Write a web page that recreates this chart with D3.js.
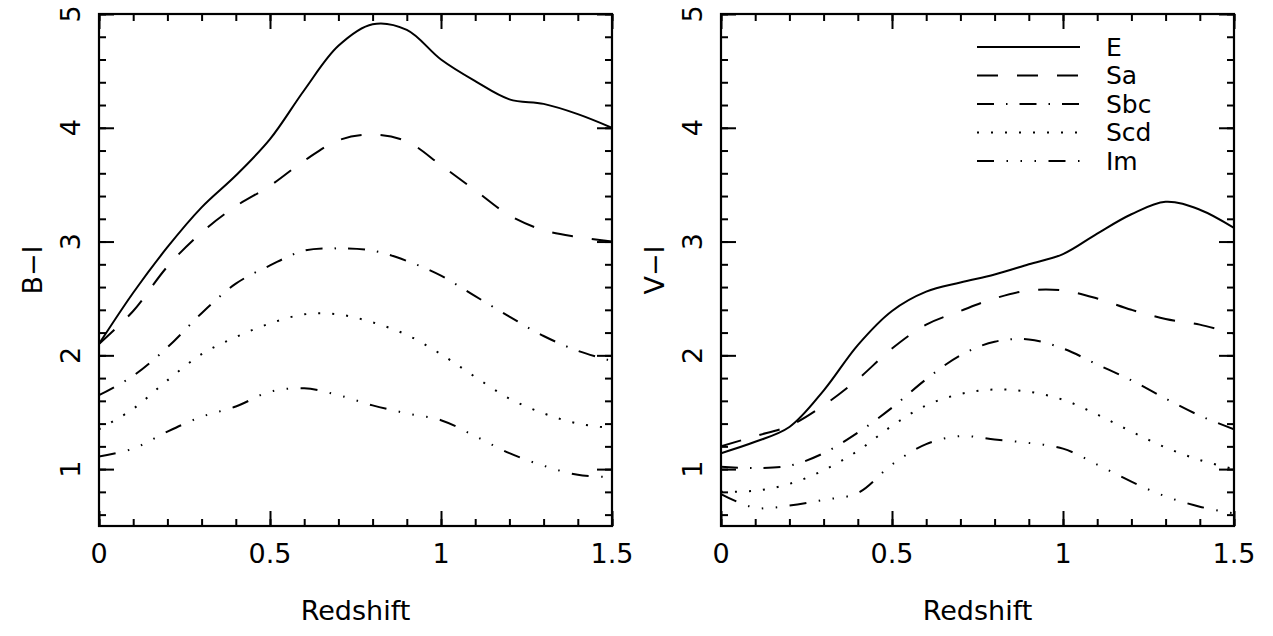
<!DOCTYPE html>
<html>
<head>
<meta charset="utf-8">
<script src="https://cdn.jsdelivr.net/npm/d3@7"></script>
<style>
  body { margin: 0; background: #fff; }
  svg { display: block; font-family: "DejaVu Sans", sans-serif; }
</style>
</head>
<body>
<div id="chart"></div>
<script>
// Redshift grid shared by every curve
const redshift = [0, 0.1, 0.2, 0.3, 0.4, 0.5, 0.6, 0.7, 0.8, 0.9, 1.0, 1.1, 1.2, 1.3, 1.4, 1.5];

const types = ["E", "Sa", "Sbc", "Scd", "Im"];

// B-I colours (left panel)
const biE   = [2.10, 2.55, 2.95, 3.30, 3.58, 3.90, 4.33, 4.72, 4.91, 4.86, 4.60, 4.41, 4.25, 4.21, 4.12, 4.00];
const biSa  = [2.10, 2.39, 2.78, 3.08, 3.31, 3.49, 3.71, 3.89, 3.94, 3.88, 3.67, 3.45, 3.23, 3.10, 3.04, 3.00];
const biSbc = [1.65, 1.82, 2.07, 2.37, 2.63, 2.79, 2.92, 2.94, 2.92, 2.83, 2.70, 2.52, 2.34, 2.17, 2.04, 1.95];
const biScd = [1.35, 1.53, 1.78, 2.01, 2.16, 2.28, 2.36, 2.36, 2.29, 2.18, 2.01, 1.81, 1.62, 1.49, 1.40, 1.36];
const biIm  = [1.11, 1.18, 1.33, 1.46, 1.55, 1.68, 1.71, 1.65, 1.56, 1.49, 1.43, 1.29, 1.14, 1.03, 0.95, 0.93];

// V-I colours (right panel)
const viE   = [1.14, 1.24, 1.37, 1.69, 2.09, 2.39, 2.56, 2.64, 2.71, 2.80, 2.89, 3.07, 3.24, 3.35, 3.28, 3.12];
const viSa  = [1.20, 1.29, 1.38, 1.56, 1.79, 2.06, 2.27, 2.39, 2.50, 2.57, 2.57, 2.50, 2.40, 2.32, 2.27, 2.19];
const viSbc = [1.02, 1.01, 1.03, 1.14, 1.32, 1.54, 1.79, 2.00, 2.12, 2.14, 2.06, 1.92, 1.78, 1.62, 1.47, 1.35];
const viScd = [0.80, 0.81, 0.87, 0.99, 1.16, 1.38, 1.56, 1.66, 1.70, 1.68, 1.61, 1.48, 1.33, 1.19, 1.08, 1.00];
const viIm  = [0.78, 0.66, 0.68, 0.73, 0.79, 1.04, 1.22, 1.29, 1.26, 1.23, 1.18, 1.04, 0.89, 0.76, 0.67, 0.61];

const xMajor = [0, 0.5, 1, 1.5];
const yMajor = [1, 2, 3, 4, 5];

// line styles per galaxy type
const dashes = {
    E: null,
    Sa: "21,19",
    Sbc: "17,12,1.5,12",
    Scd: "2,12",
    Im: "17,12.5,1.5,12.5,1.5,12.5,1.5,12.5"
};

const width = 1273, height = 636;
const svg = d3.select("#chart").append("svg")
    .attr("width", width)
    .attr("height", height);

const panels = [
    { left: 99,  title: "B\u2212I", series: [biE, biSa, biSbc, biScd, biIm], legend: false },
    { left: 721, title: "V\u2212I", series: [viE, viSa, viSbc, viScd, viIm], legend: true }
];

const plotTop = 14, plotBottom = 526, panelW = 513;

panels.forEach((p, pi) => {
    const x = d3.scaleLinear().domain([0, 1.5]).range([p.left, p.left + panelW]);
    const y = d3.scaleLinear().domain([0.5, 5]).range([plotBottom, plotTop]);

    const g = svg.append("g");

    // clip for curves
    svg.append("clipPath").attr("id", "clip" + pi)
        .append("rect")
        .attr("x", x(0)).attr("y", y(5))
        .attr("width", x(1.5) - x(0)).attr("height", y(0.5) - y(5));

    // ticks on all four sides, pointing inward
    const xMinor = d3.range(0, 1.501, 0.1);
    const yMinor = d3.range(0.6, 5.001, 0.2);

    const addAxis = (axis, transform) => {
        const a = g.append("g").attr("transform", transform).call(axis);
        a.select(".domain").remove();
        a.selectAll("line").attr("stroke", "#000").attr("stroke-width", 2);
        a.selectAll("text").remove();
    };

    addAxis(d3.axisBottom(x).tickValues(xMinor).tickSize(-7), `translate(0,${plotBottom})`);
    addAxis(d3.axisBottom(x).tickValues(xMajor).tickSize(-15), `translate(0,${plotBottom})`);
    addAxis(d3.axisTop(x).tickValues(xMinor).tickSize(-7), `translate(0,${plotTop})`);
    addAxis(d3.axisTop(x).tickValues(xMajor).tickSize(-15), `translate(0,${plotTop})`);
    addAxis(d3.axisLeft(y).tickValues(yMinor).tickSize(-7), `translate(${p.left},0)`);
    addAxis(d3.axisLeft(y).tickValues(yMajor).tickSize(-15), `translate(${p.left},0)`);
    addAxis(d3.axisRight(y).tickValues(yMinor).tickSize(-7), `translate(${p.left + panelW},0)`);
    addAxis(d3.axisRight(y).tickValues(yMajor).tickSize(-15), `translate(${p.left + panelW},0)`);

    // frame
    g.append("rect")
        .attr("x", x(0)).attr("y", y(5))
        .attr("width", x(1.5) - x(0)).attr("height", y(0.5) - y(5))
        .attr("fill", "none").attr("stroke", "#000").attr("stroke-width", 2.2);

    // x tick labels
    g.selectAll(".xl").data(xMajor).enter().append("text")
        .attr("x", d => x(d)).attr("y", 563)
        .attr("text-anchor", "middle")
        .attr("font-size", 27)
        .text(d => d);

    // y tick labels, rotated
    g.selectAll(".yl").data(yMajor).enter().append("text")
        .attr("transform", d => `translate(${p.left - 19},${y(d)}) rotate(-90)`)
        .attr("text-anchor", "middle")
        .attr("font-size", 27)
        .text(d => d);

    // axis titles
    g.append("text")
        .attr("x", p.left + panelW / 2).attr("y", 620)
        .attr("text-anchor", "middle")
        .attr("font-size", 27)
        .text("Redshift");

    g.append("text")
        .attr("transform", `translate(${p.left - 57},${(plotTop + plotBottom) / 2}) rotate(-90)`)
        .attr("text-anchor", "middle")
        .attr("font-size", 27)
        .text(p.title);

    // curves
    const line = d3.line()
        .x((d, i) => x(redshift[i]))
        .y(d => y(d))
        .curve(d3.curveCatmullRom.alpha(0.5));

    g.append("g").attr("clip-path", `url(#clip${pi})`)
        .selectAll("path")
        .data(p.series)
        .enter().append("path")
        .attr("d", line)
        .attr("fill", "none")
        .attr("stroke", "#000")
        .attr("stroke-width", 2)
        .attr("stroke-dasharray", (d, i) => dashes[types[i]]);

    // legend
    if (p.legend) {
        const lg = g.append("g");
        types.forEach((t, i) => {
            const ly = 47 + i * 28.5;
            lg.append("line")
                .attr("x1", 977).attr("x2", 1080)
                .attr("y1", ly).attr("y2", ly)
                .attr("stroke", "#000").attr("stroke-width", 2)
                .attr("stroke-dasharray", dashes[t]);
            lg.append("text")
                .attr("x", 1106).attr("y", ly + 8.5)
                .attr("font-size", 25)
                .text(t);
        });
    }
});
</script>
</body>
</html>
